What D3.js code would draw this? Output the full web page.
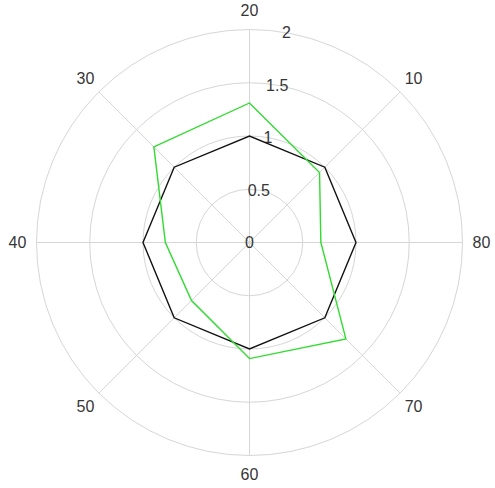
<!DOCTYPE html>
<html>
<head>
<meta charset="utf-8">
<script src="https://cdn.jsdelivr.net/npm/d3@7"></script>
<style>
  html, body { margin: 0; padding: 0; background: #fff; }
  svg { display: block; }
  text { font-family: "Liberation Sans", Arial, sans-serif; }
</style>
</head>
<body>
<svg id="chart" width="495" height="488"></svg>
<script>
// Angular positions (degrees, counter-clockwise from the right) and their labels
const thetaDeg = [0, 45, 90, 135, 180, 225, 270, 315];
const thetaLabels = ["80", "10", "20", "30", "40", "50", "60", "70"];

// Radial ticks
const rTicks = [0, 0.5, 1, 1.5, 2];
const rTickLabels = ["0", "0.5", "1", "1.5", "2"];

// Series values at each angular position
const seriesBlack = [1, 1, 1, 1, 1, 1, 1, 1];
const seriesGreen = [0.67, 0.93, 1.31, 1.27, 0.79, 0.77, 1.09, 1.28];

const width = 495, height = 488;
const cx = 249.5, cy = 242.5;
const outerR = 213;

const svg = d3.select("#chart");
const g = svg.append("g").attr("transform", `translate(${cx},${cy})`);

const r = d3.scaleLinear().domain([0, 2]).range([0, outerR]);
// math angle (ccw from +x, degrees) -> d3 radial angle (cw from top, radians)
const toD3 = deg => (90 - deg) * Math.PI / 180;
const px = (deg, rad) => rad * Math.cos(deg * Math.PI / 180);
const py = (deg, rad) => -rad * Math.sin(deg * Math.PI / 180);

const gridColor = "#d6d6d6";

// Concentric grid circles
g.selectAll("circle.grid")
  .data(rTicks.filter(d => d > 0))
  .join("circle")
  .attr("class", "grid")
  .attr("r", d => r(d))
  .attr("fill", "none")
  .attr("stroke", gridColor)
  .attr("stroke-width", 1);

// Spokes
g.selectAll("line.spoke")
  .data(thetaDeg)
  .join("line")
  .attr("class", "spoke")
  .attr("x1", 0).attr("y1", 0)
  .attr("x2", d => px(d, r(2)))
  .attr("y2", d => py(d, r(2)))
  .attr("stroke", gridColor)
  .attr("stroke-width", 1);

// Angular labels
const labelR = outerR + 19;
g.selectAll("text.theta")
  .data(thetaDeg)
  .join("text")
  .attr("class", "theta")
  .attr("x", d => px(d, labelR))
  .attr("y", d => py(d, labelR))
  .attr("text-anchor", "middle")
  .attr("dominant-baseline", "central")
  .attr("font-size", 16)
  .attr("fill", "#363636")
  .text((d, i) => thetaLabels[i]);

// Radial tick labels along the 80° direction
const rLabelDeg = 80;
g.selectAll("text.rtick")
  .data(rTicks)
  .join("text")
  .attr("class", "rtick")
  .attr("x", d => px(rLabelDeg, r(d)))
  .attr("y", d => py(rLabelDeg, r(d)))
  .attr("text-anchor", "middle")
  .attr("dominant-baseline", "central")
  .attr("font-size", 16)
  .attr("fill", "#363636")
  .text((d, i) => rTickLabels[i]);

// Series lines (closed polygons)
const radial = d3.lineRadial()
  .angle(d => toD3(d.theta))
  .radius(d => r(d.value))
  .curve(d3.curveLinearClosed);

const mk = vals => thetaDeg.map((t, i) => ({ theta: t, value: vals[i] }));

g.append("path")
  .datum(mk(seriesBlack))
  .attr("d", radial)
  .attr("fill", "none")
  .attr("stroke", "#111")
  .attr("stroke-width", 1.4)
  .attr("stroke-linejoin", "miter");

g.append("path")
  .datum(mk(seriesGreen))
  .attr("d", radial)
  .attr("fill", "none")
  .attr("stroke", "#2fdc2f")
  .attr("stroke-width", 1.4)
  .attr("stroke-linejoin", "miter");
</script>
</body>
</html>
